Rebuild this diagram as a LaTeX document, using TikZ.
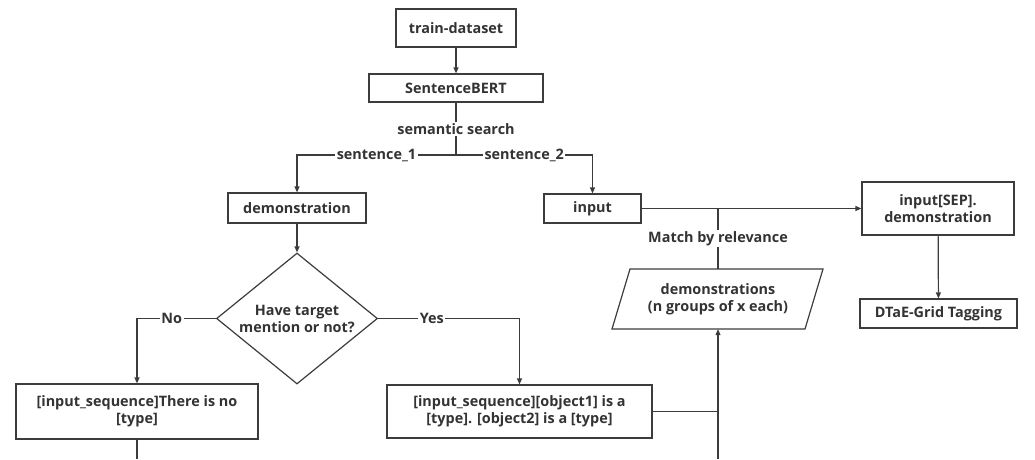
\documentclass[tikz,border=0pt]{standalone}
\usepackage{fontspec}
\setmainfont{Open Sans}
\usetikzlibrary{arrows.meta,shapes.geometric}
\definecolor{linecol}{HTML}{3C3C3C}
\definecolor{textcol}{HTML}{333333}
\begin{document}
\begin{tikzpicture}[x=1pt,y=-1pt,
  every node/.style={text=textcol, font=\bfseries\fontsize{14.4}{17}\selectfont},
  line/.style={draw=linecol, line width=1.2pt},
  arr/.style={line, -{Triangle[length=6pt,width=5pt]}},
  box/.style={draw=linecol, line width=1.2pt, fill=white, inner sep=0pt, align=center},
  lbl/.style={fill=white, inner sep=1.5pt}]
\useasboundingbox (0,0) rectangle (1035,459);

% boxes
\node[box, minimum width=120pt, minimum height=38pt] (train) at (456,28) {train-dataset};
\node[box, minimum width=174pt, minimum height=28pt] (sbert) at (456,88) {SentenceBERT};
\node[box, minimum width=138pt, minimum height=30pt] (demo) at (297,208) {demonstration};
\node[box, minimum width=97pt, minimum height=29pt] (input) at (592.5,208.5) {input};
\node[box, minimum width=152pt, minimum height=53pt] (sep) at (938,208.5) {input[SEP].\\demonstration};
\node[box, minimum width=157pt, minimum height=29pt] (dtae) at (938.5,313.5) {DTaE-Grid Tagging};
\node[box, diamond, aspect=1.23, minimum width=161pt, minimum height=131pt] (dec) at (297,318.5) {Have target\\mention or not?};
\node[box, minimum width=242pt, minimum height=55pt] (nobox) at (137,411.5) {[input\_sequence]There is no\\[0pt][type]};
\node[box, minimum width=265pt, minimum height=53pt] (yesbox) at (519.5,411.5) {[input\_sequence][object1] is a\\[0pt][type]. [object2] is a [type]};

% parallelogram
\draw[line] (630,269) -- (823,269) -- (805,329) -- (612,329) -- cycle;
\node[align=center, minimum height=60pt, inner sep=0pt] (para) at (718,299) {demonstrations\\(n groups of x each)};

% junction points
\coordinate (J) at (456,155);
\coordinate (Jl) at (297,155);
\coordinate (Jr) at (592.5,155);
\coordinate (nocorner) at (137,318.5);
\coordinate (yescorner) at (519.5,318.5);
\coordinate (match) at (718,208.5);
\coordinate (merge) at (718,411.5);
\coordinate (bottomR) at (718,459);
\coordinate (bottomL) at (137,459);

% connectors
\draw[arr] (train) -- (sbert);
\draw[line] (sbert.south) -- (J) node[lbl, midway] {semantic search};
\draw[arr] (J) -- node[lbl] {sentence\_1} (Jl) -- (demo.north);
\draw[arr] (J) -- node[lbl] {sentence\_2} (Jr) -- (input.north);
\draw[arr] (demo) -- (dec);
\draw[arr] (dec.west) -- node[lbl, pos=0.56] {No} (nocorner) -- (nobox.north);
\draw[arr] (dec.east) -- node[lbl, pos=0.38] {Yes} (yescorner) -- (yesbox.north);
\draw[arr] (input) -- (sep);
\draw[line] (para.north) -- (match) node[lbl, pos=0.5] {Match by relevance};
\draw[arr] (sep) -- (dtae);
\draw[line] (yesbox.east) -- (merge);
\draw[arr] (bottomR) -- (para.south);
\draw[line] (nobox.south) -- (bottomL);
\end{tikzpicture}
\end{document}
